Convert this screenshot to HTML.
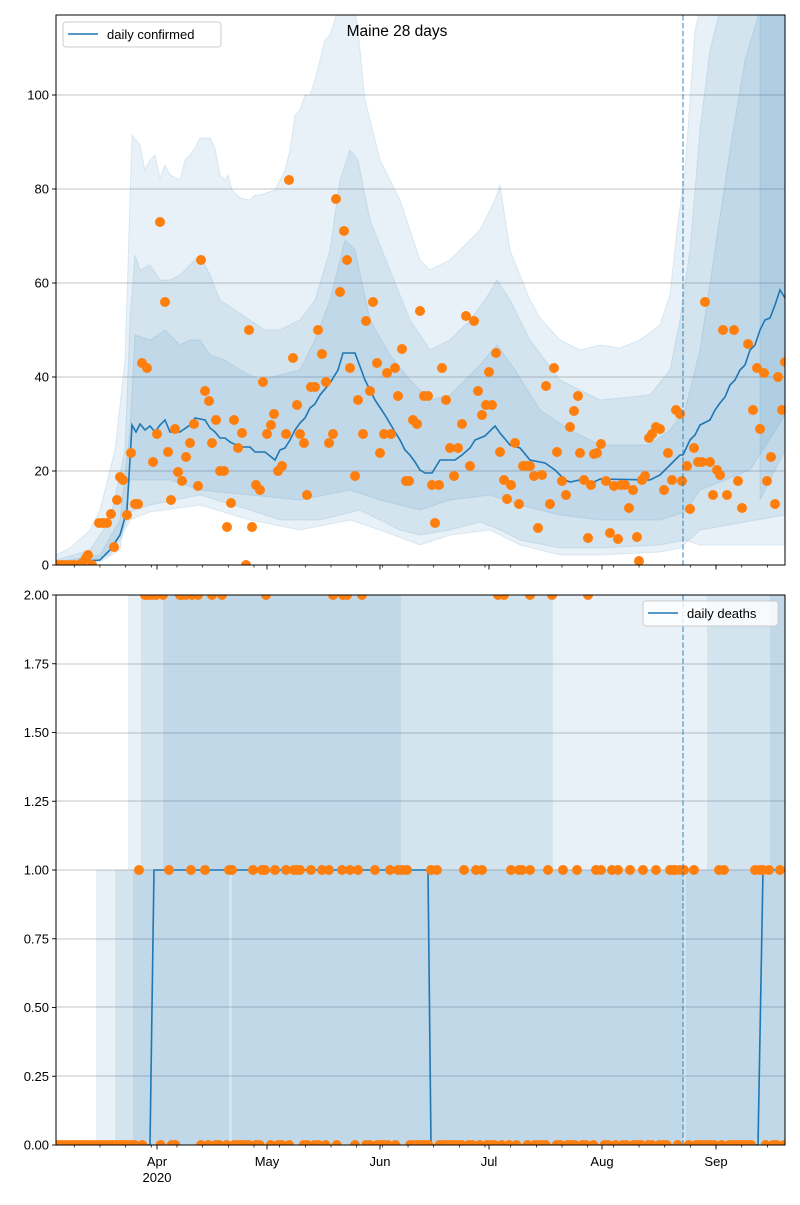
<!DOCTYPE html>
<html><head><meta charset="utf-8"><style>
body{margin:0;background:#fff}
svg text{font-family:"Liberation Sans","DejaVu Sans",sans-serif;}
</style></head><body>
<svg id="s" width="800" height="1200" xmlns="http://www.w3.org/2000/svg">
<defs>
<clipPath id="c1"><rect x="56" y="15" width="729" height="550"/></clipPath>
<clipPath id="c2"><rect x="56" y="595" width="729" height="550"/></clipPath>
</defs>
<rect width="800" height="1200" fill="#fff"/>
<g id="top" clip-path="url(#c1)"></g>
<g id="bot" clip-path="url(#c2)"></g>
<g id="ax"></g>
</svg>
<script>
var NS="http://www.w3.org/2000/svg";
function el(p,t,a,txt){var e=document.createElementNS(NS,t);for(var k in a)e.setAttribute(k,a[k]);if(txt!==undefined)e.textContent=txt;document.getElementById(p).appendChild(e);return e;}
function pts(a){return a.map(function(p){return p[0]+","+p[1]}).join(" ");}
function band(g,up,lo){var l=lo.slice().reverse();el(g,"polygon",{points:pts(up.concat(l)),fill:"rgba(31,119,180,0.1)",stroke:"rgba(31,119,180,0.12)","stroke-width":1});}
// ---------- TOP ----------
[471,377,283,189,95].forEach(function(y){el("top","line",{x1:56,x2:785,y1:y,y2:y,stroke:"#b0b0b0","stroke-width":0.8});});
var o1u=[[56,555],[70,548],[90,530],[100,510],[115,450],[125,360],[132,135],[140,145],[145,170],[150,160],[155,155],[160,178],[165,165],[170,175],[180,180],[185,160],[190,155],[195,148],[200,138],[210,138],[215,148],[220,175],[225,180],[228,175],[232,190],[240,198],[250,200],[255,195],[260,195],[275,190],[280,180],[285,170],[290,150],[295,115],[300,110],[305,95],[310,95],[315,80],[320,60],[325,40],[330,35],[338,10],[355,10],[358,30],[365,100],[375,140],[380,160],[400,200],[420,260],[430,270],[440,265],[450,260],[460,250],[470,240],[480,230],[490,210],[495,200],[500,185],[510,250],[520,275],[530,300],[540,318],[560,340],[580,350],[600,345],[620,348],[640,340],[660,325],[670,295],[677,230],[685,170],[695,30],[700,10],[785,10]];
var o1l=[[56,565],[90,560],[110,555],[125,525],[130,512],[150,505],[200,495],[250,510],[280,520],[320,520],[340,515],[360,510],[380,520],[400,530],[420,535],[450,530],[480,522],[500,530],[520,540],[560,548],[600,548],[660,545],[685,540],[700,545],[785,545]];
var o2u=[[56,560],[90,550],[110,520],[125,450],[130,320],[135,255],[140,270],[150,265],[160,280],[170,280],[180,275],[190,265],[200,255],[210,275],[220,300],[235,310],[250,320],[265,330],[280,330],[300,320],[315,300],[330,250],[340,180],[350,150],[358,160],[370,220],[390,270],[410,320],[430,350],[450,340],[470,320],[485,300],[497,280],[510,300],[530,340],[560,380],[600,400],[650,395],[670,370],[680,320],[690,250],[700,130],[710,50],[720,10],[785,10]];
var o2l=[[56,565],[100,560],[120,540],[130,520],[150,512],[200,505],[250,520],[300,530],[350,520],[380,530],[420,545],[450,535],[490,530],[520,545],[560,555],[600,555],[660,552],[680,548],[700,530],[785,515]];
var o3u=[[56,562],[100,555],[120,520],[130,430],[135,335],[150,340],[165,330],[180,345],[190,340],[200,340],[210,355],[225,360],[240,370],[260,380],[280,375],[300,370],[315,340],[330,300],[345,240],[355,250],[370,320],[390,355],[410,380],[430,400],[450,395],[480,365],[497,345],[515,370],[540,410],[570,430],[600,445],[650,445],[670,430],[685,410],[700,350],[715,250],[730,150],[745,60],[760,10],[785,10]];
var o3l=[[56,565],[100,562],[120,550],[130,480],[170,480],[200,490],[250,495],[300,500],[350,490],[380,500],[420,510],[450,500],[490,495],[520,505],[560,515],[600,520],[660,520],[685,512],[700,490],[750,470],[785,415]];
band("top",o1u,o1l);band("top",o2u,o2l);band("top",o3u,o3l);
band("top",[[760,10],[785,10]],[[760,500],[785,450]]);
var med=[[56,563],[100,560],[110,550],[120,535],[127,510],[132,425],[136,432],[140,424],[145,430],[150,426],[155,432],[160,425],[165,420],[170,432],[180,432],[190,425],[195,418],[205,420],[210,428],[215,432],[220,438],[225,438],[230,442],[240,447],[250,447],[255,452],[265,452],[275,460],[280,450],[285,448],[290,440],[295,430],[300,423],[305,418],[310,408],[315,404],[320,395],[330,383],[338,370],[343,353],[355,353],[365,380],[375,400],[385,415],[395,432],[400,440],[405,450],[410,455],[415,462],[420,470],[425,473],[432,473],[440,460],[455,460],[462,455],[470,448],[475,440],[480,438],[485,436],[495,426],[500,433],[510,445],[520,448],[530,460],[545,463],[555,470],[565,480],[570,482],[580,480],[590,484],[600,479],[650,480],[660,475],[670,465],[680,455],[683,455],[690,440],[695,435],[700,425],[710,420],[715,410],[720,403],[725,397],[730,385],[735,380],[740,370],[745,365],[750,350],[755,345],[760,330],[765,320],[770,318],[775,305],[780,290],[785,298]];
el("top","polyline",{points:pts(med),fill:"none",stroke:"#1f77b4","stroke-width":1.6});
var dots=[[58,565],[62,565],[66,565],[70,565],[74,565],[78,565],[82,563],[86,558],[88,555],[92,565],[99,523],[103,523],[107,523],[111,514],[114,547],[117,500],[120,477],[123,480],[127,515],[131,453],[135,504],[138,504],[142,363],[147,368],[153,462],[157,434],[160,222],[165,302],[168,452],[171,500],[175,429],[178,472],[182,481],[186,457],[190,443],[194,424],[198,486],[201,260],[205,391],[209,401],[212,443],[216,420],[220,471],[224,471],[227,527],[231,503],[234,420],[238,448],[242,433],[246,565],[249,330],[252,527],[256,485],[260,490],[263,382],[267,434],[271,425],[274,414],[278,471],[282,466],[286,434],[289,180],[293,358],[297,405],[300,434],[304,443],[307,495],[311,387],[315,387],[318,330],[322,354],[326,382],[329,443],[333,434],[336,199],[340,292],[344,231],[347,260],[350,368],[355,476],[358,400],[363,434],[366,321],[370,391],[373,302],[377,363],[380,453],[384,434],[387,373],[391,434],[395,368],[398,396],[402,349],[406,481],[409,481],[413,420],[417,424],[420,311],[424,396],[428,396],[432,485],[435,523],[439,485],[442,368],[446,400],[450,448],[454,476],[458,448],[462,424],[466,316],[470,466],[474,321],[478,391],[482,415],[486,405],[489,372],[492,405],[496,353],[500,452],[504,480],[507,499],[511,485],[515,443],[519,504],[523,466],[527,466],[530,466],[534,476],[538,528],[542,475],[546,386],[550,504],[554,368],[557,452],[562,481],[566,495],[570,427],[574,411],[578,396],[580,453],[584,480],[588,538],[591,485],[594,454],[597,453],[601,444],[606,481],[610,533],[614,486],[618,539],[621,485],[625,485],[629,508],[633,490],[637,537],[639,561],[642,480],[645,476],[649,438],[652,434],[656,427],[660,429],[664,490],[668,453],[672,480],[676,410],[680,414],[682,481],[687,466],[690,509],[694,448],[698,462],[702,462],[705,302],[710,462],[713,495],[717,470],[720,475],[723,330],[727,495],[734,330],[738,481],[742,508],[748,344],[753,410],[757,368],[760,429],[764,373],[767,481],[771,457],[775,504],[778,377],[782,410],[785,362]];
dots.forEach(function(p){el("top","circle",{cx:p[0],cy:p[1],r:5,fill:"#ff7f0e"});});
el("top","line",{x1:683,x2:683,y1:15,y2:565,stroke:"#1f77b4","stroke-opacity":0.6,"stroke-width":1.5,"stroke-dasharray":"5.5,2.4"});
// ---------- BOTTOM ----------
[1076,1007,939,870,801,733,664].forEach(function(y){el("bot","line",{x1:56,x2:785,y1:y,y2:y,stroke:"#b0b0b0","stroke-width":0.8});});
function r(x1,x2,y1,y2){if(y2===undefined)y2=1145;el("bot","rect",{x:x1,y:y1,width:x2-x1,height:y2-y1,fill:"rgba(31,119,180,0.1)"});}
r(96,128,870);r(128,785,590);
r(115,141,870);r(141,553,590);r(553,707,870);r(707,785,590);
r(133,229,870);r(232,683,870);r(163,401,590,870);r(686,785,870);r(770,785,590,870);
el("bot","polyline",{points:"56,1145 150,1145 154,870 428,870 431,1145 758,1145 763,870 785,870",fill:"none",stroke:"#1f77b4","stroke-width":1.6});
var ones=[139,169,191,205,229,232,253,262,265,275,286,294,297,300,311,322,329,342,350,358,375,390,398,402,407,431,437,464,476,482,511,519,522,530,548,563,577,596,601,612,618,630,643,656,670,673,675,680,684,694,719,724,755,760,763,769,780];
var twos=[145,148,152,156,163,180,182,186,192,198,212,222,266,333,343,347,362,498,504,530,552,588];
for(var x=58;x<=786;x+=3.667){var near=false;ones.concat(twos).forEach(function(o){if(Math.abs(o-x)<1.9)near=true;});if(!near)el("bot","circle",{cx:x.toFixed(1),cy:1145,r:5,fill:"#ff7f0e"});}
ones.forEach(function(x){el("bot","circle",{cx:x,cy:870,r:5,fill:"#ff7f0e"});});
twos.forEach(function(x){el("bot","circle",{cx:x,cy:595,r:5,fill:"#ff7f0e"});});
el("bot","line",{x1:683,x2:683,y1:595,y2:1145,stroke:"#1f77b4","stroke-opacity":0.6,"stroke-width":1.5,"stroke-dasharray":"5.5,2.4"});
// ---------- AXES ----------
[[15,565],[595,1145]].forEach(function(b){
 el("ax","rect",{x:56,y:b[0],width:729,height:550,fill:"none",stroke:"#000","stroke-width":1});
 var months=[157,267,380,489,602,716];
 months.forEach(function(x){el("ax","line",{x1:x,x2:x,y1:b[1],y2:b[1]+4.5,stroke:"#000","stroke-width":0.9});});
 for(var x=74.3;x<785;x+=25.67){el("ax","line",{x1:x,x2:x,y1:b[1],y2:b[1]+2.5,stroke:"#000","stroke-width":0.7});}
});
var yl=[[565,"0"],[471,"20"],[377,"40"],[283,"60"],[189,"80"],[95,"100"]];
yl.forEach(function(a){el("ax","line",{x1:52,x2:56,y1:a[0],y2:a[0],stroke:"#000","stroke-width":0.9});el("ax","text",{x:49,y:a[0]+4.5,"text-anchor":"end","font-size":13},a[1]);});
var yl2=["0.00","0.25","0.50","0.75","1.00","1.25","1.50","1.75","2.00"];
yl2.forEach(function(t,i){var y=1145-i*68.75;el("ax","line",{x1:52,x2:56,y1:y,y2:y,stroke:"#000","stroke-width":0.9});el("ax","text",{x:49,y:y+4.5,"text-anchor":"end","font-size":13},t);});
[[157,"Apr"],[267,"May"],[380,"Jun"],[489,"Jul"],[602,"Aug"],[716,"Sep"]].forEach(function(a){el("ax","text",{x:a[0],y:1166,"text-anchor":"middle","font-size":13},a[1]);});
el("ax","text",{x:157,y:1182,"text-anchor":"middle","font-size":13},"2020");
el("ax","text",{x:397,y:36,"text-anchor":"middle","font-size":15.5},"Maine 28 days");
el("ax","rect",{x:63,y:22,width:158,height:25,rx:3,fill:"rgba(255,255,255,0.8)",stroke:"#cccccc"});
el("ax","line",{x1:68,x2:98,y1:34,y2:34,stroke:"#1f77b4","stroke-width":1.6});
el("ax","text",{x:107,y:39,"font-size":13},"daily confirmed");
el("ax","rect",{x:643,y:601,width:135,height:25,rx:3,fill:"rgba(255,255,255,0.8)",stroke:"#cccccc"});
el("ax","line",{x1:648,x2:678,y1:613,y2:613,stroke:"#1f77b4","stroke-width":1.6});
el("ax","text",{x:687,y:618,"font-size":13},"daily deaths");
</script>
</body></html>
